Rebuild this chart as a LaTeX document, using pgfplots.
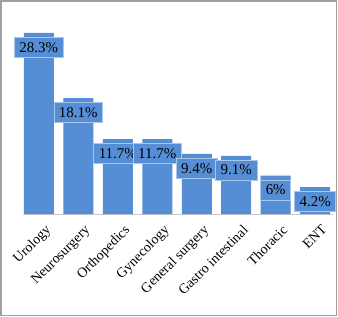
\documentclass[border=0pt]{standalone}
\usepackage{pgfplots}
\pgfplotsset{compat=1.18}
\usepackage{fontspec}
\setmainfont{Liberation Serif}
\definecolor{barblue}{RGB}{85,142,213}
\definecolor{edgeblue}{RGB}{170,198,236}
\definecolor{framegray}{RGB}{160,160,160}
\definecolor{axisgray}{RGB}{200,200,200}
\begin{document}
\begin{tikzpicture}[x=1bp,y=1bp]
\useasboundingbox (-23,-103) rectangle (315,214);
\draw[framegray, line width=1.2bp] (-22,-101.5) rectangle (313.5,213);
\begin{axis}[
  at={(0,0)}, anchor=south west,
  scale only axis,
  width=310bp, height=192bp,
  xmin=-0.4, xmax=7.45,
  ymin=0, ymax=30,
  axis x line*=bottom,
  axis y line=none,
  x axis line style={axisgray, line width=0.8bp, -},
  xtick={0,...,7},
  xticklabels={Urology,Neurosurgery,Orthopedics,Gynecology,General surgery,Gastro intestinal,Thoracic,ENT},
  major tick length=0pt,
  xticklabel style={rotate=45, anchor=north east, font=\fontsize{14}{16}\selectfont, inner sep=1bp, xshift=-2bp, yshift=-10bp},
  ytick=\empty,
  clip=false,
]
\addplot[ybar, bar width=30bp, fill=barblue, draw=none,
  point meta=explicit symbolic,
  nodes near coords,
  nodes near coords style={anchor=north, yshift=-4bp, fill=barblue, draw=edgeblue, line width=0.6bp,
    inner xsep=5bp, inner ysep=2bp, minimum height=20bp, text=black, font=\fontsize{15}{16}\selectfont},
] coordinates {
  (0,28.3) [28.3\%]
  (1,18.1) [18.1\%]
  (2,11.7) [11.7\%]
  (3,11.7) [11.7\%]
  (4,9.4) [9.4\%]
  (5,9.1) [9.1\%]
  (6,6) [6\%]
  (7,4.2) [4.2\%]
};
\end{axis}
\end{tikzpicture}
\end{document}
